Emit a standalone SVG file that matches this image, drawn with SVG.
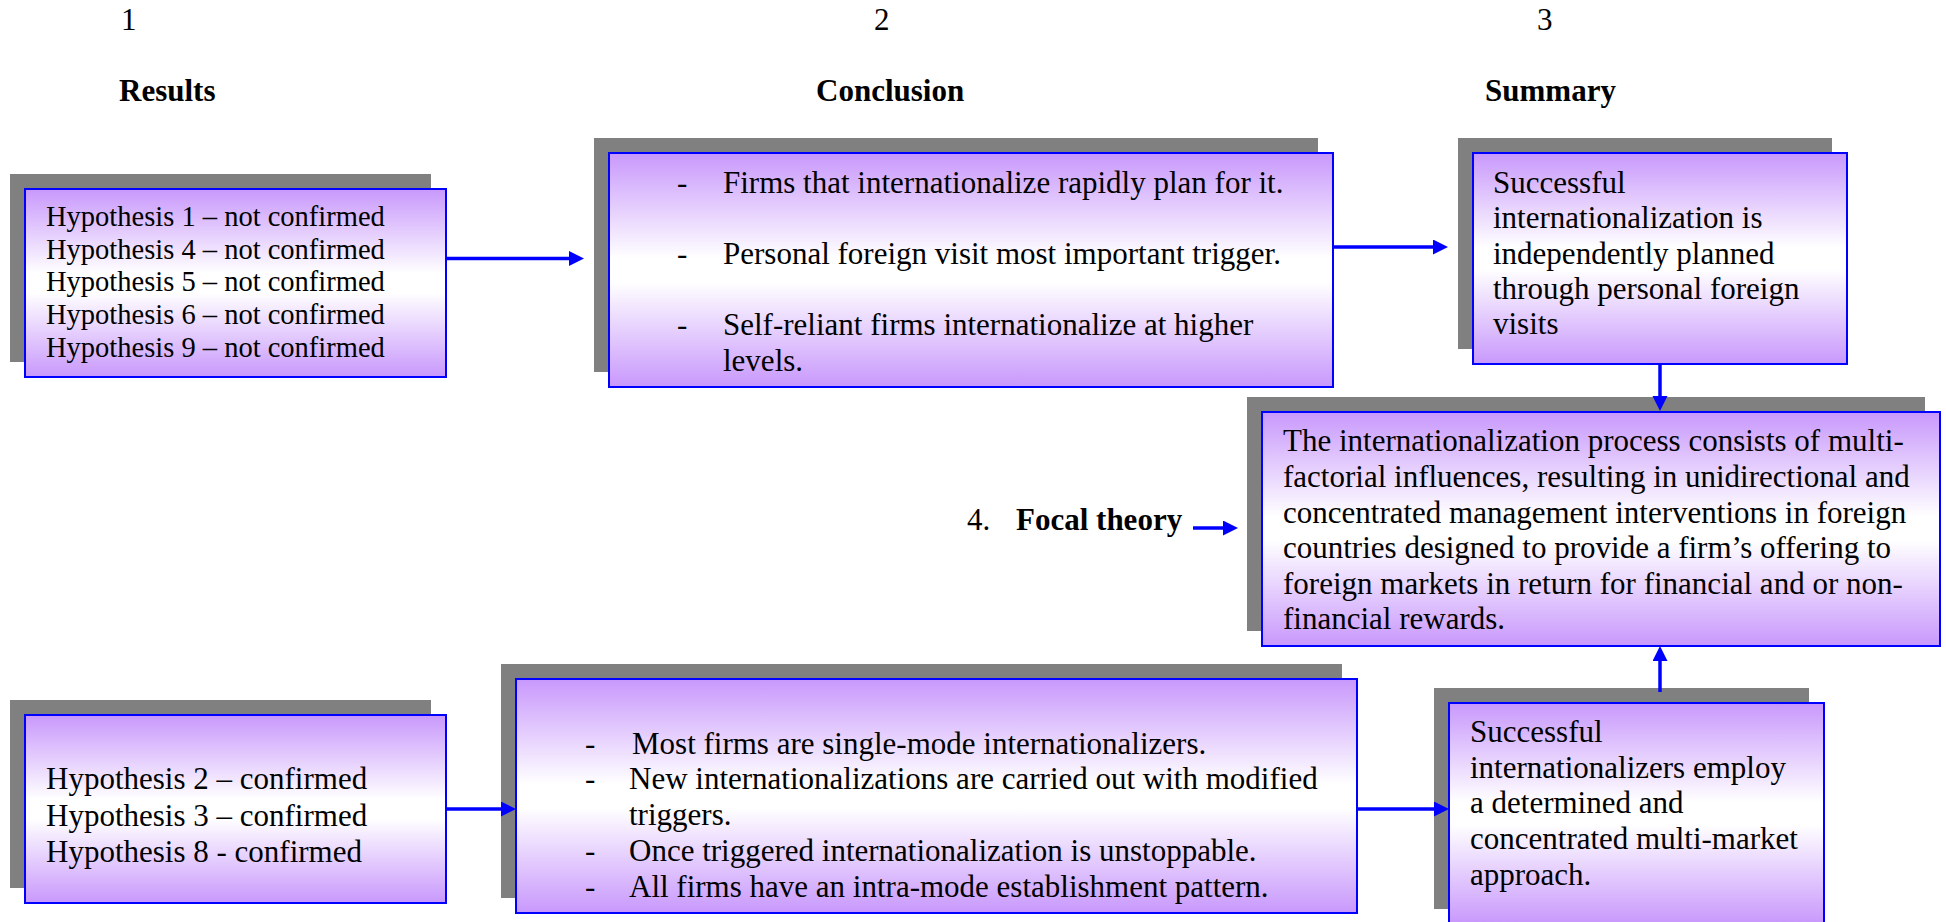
<svg xmlns="http://www.w3.org/2000/svg" width="1946" height="922" viewBox="0 0 1946 922">
  <defs>
    <linearGradient id="boxFill" x1="0" y1="0" x2="0" y2="1">
      <stop offset="0" stop-color="#C898FC"/>
      <stop offset="0.45" stop-color="#FFFFFF"/>
      <stop offset="0.55" stop-color="#FFFFFF"/>
      <stop offset="1" stop-color="#C898FC"/>
    </linearGradient>
    <marker id="arrowHead" markerUnits="userSpaceOnUse" markerWidth="16" markerHeight="16" refX="0" refY="7.5" orient="auto">
      <path d="M0,0 L15,7.5 L0,15 z" fill="#0000FF"/>
    </marker>
  </defs>
  <style>
    .shadow { fill: #808080; }
    .box { fill: url(#boxFill); stroke: #0000FF; stroke-width: 2; }
    text { font-family: "Liberation Serif", "Times New Roman", serif; fill: #000000; font-size: 31px; }
    .head { font-weight: bold; }
    .small { font-size: 28.5px; }
    .link { stroke: #0000FF; stroke-width: 3.5; fill: none; marker-end: url(#arrowHead); }
  </style>

  <rect width="1946" height="922" fill="#FFFFFF"/>

  <!-- column headings -->
  <g id="headings">
    <text x="121" y="30" font-size="30">1</text>
    <text x="874" y="30" font-size="30">2</text>
    <text x="1537" y="30" font-size="30">3</text>
    <text class="head" x="119" y="101">Results</text>
    <text class="head" x="816" y="101">Conclusion</text>
    <text class="head" x="1485" y="101">Summary</text>
  </g>

  <!-- results: rejected hypotheses -->
  <g id="results-rejected">
    <rect class="shadow" x="10" y="174" width="421" height="188"/>
    <rect class="box" x="25" y="189" width="421" height="188"/>
    <text class="small" x="46" y="226">Hypothesis 1 – not confirmed</text>
    <text class="small" x="46" y="258.7">Hypothesis 4 – not confirmed</text>
    <text class="small" x="46" y="291.4">Hypothesis 5 – not confirmed</text>
    <text class="small" x="46" y="324.1">Hypothesis 6 – not confirmed</text>
    <text class="small" x="46" y="356.8">Hypothesis 9 – not confirmed</text>
  </g>

  <!-- conclusion: upper -->
  <g id="conclusion-upper">
    <rect class="shadow" x="594" y="138" width="724" height="234"/>
    <rect class="box" x="609" y="153" width="724" height="234"/>
    <text x="677" y="193">-</text>
    <text x="723" y="193">Firms that internationalize rapidly plan for it.</text>
    <text x="677" y="264">-</text>
    <text x="723" y="264">Personal foreign visit most important trigger.</text>
    <text x="677" y="335">-</text>
    <text x="723" y="335">Self-reliant firms internationalize at higher</text>
    <text x="723" y="371">levels.</text>
  </g>

  <!-- summary: upper -->
  <g id="summary-upper">
    <rect class="shadow" x="1458" y="138" width="374" height="211"/>
    <rect class="box" x="1473" y="153" width="374" height="211"/>
    <text x="1493" y="193">Successful</text>
    <text x="1493" y="228">internationalization is</text>
    <text x="1493" y="263.5">independently planned</text>
    <text x="1493" y="299">through personal foreign</text>
    <text x="1493" y="334">visits</text>
  </g>

  <!-- focal theory -->
  <g id="focal-label">
    <text x="967" y="530">4.</text>
    <text class="head" x="1016" y="530">Focal theory</text>
  </g>
  <g id="focal-theory">
    <rect class="shadow" x="1247" y="397" width="678" height="234"/>
    <rect class="box" x="1262" y="412" width="678" height="234"/>
    <text x="1283" y="451">The internationalization process consists of multi-</text>
    <text x="1283" y="487">factorial influences, resulting in unidirectional and</text>
    <text x="1283" y="523">concentrated management interventions in foreign</text>
    <text x="1283" y="558">countries designed to provide a firm’s offering to</text>
    <text x="1283" y="593.5">foreign markets in return for financial and or non-</text>
    <text x="1283" y="629">financial rewards.</text>
  </g>

  <!-- results: confirmed hypotheses -->
  <g id="results-confirmed">
    <rect class="shadow" x="10" y="700" width="421" height="188"/>
    <rect class="box" x="25" y="715" width="421" height="188"/>
    <text x="46" y="789">Hypothesis 2 – confirmed</text>
    <text x="46" y="825.5">Hypothesis 3 – confirmed</text>
    <text x="46" y="862">Hypothesis 8 - confirmed</text>
  </g>

  <!-- conclusion: lower -->
  <g id="conclusion-lower">
    <rect class="shadow" x="501" y="664" width="841" height="234"/>
    <rect class="box" x="516" y="679" width="841" height="234"/>
    <text x="585" y="754">-</text>
    <text x="632" y="754">Most firms are single-mode internationalizers.</text>
    <text x="585" y="789">-</text>
    <text x="629" y="789">New internationalizations are carried out with modified</text>
    <text x="629" y="825">triggers.</text>
    <text x="585" y="861">-</text>
    <text x="629" y="861">Once triggered internationalization is unstoppable.</text>
    <text x="585" y="897">-</text>
    <text x="629" y="897">All firms have an intra-mode establishment pattern.</text>
  </g>

  <!-- summary: lower -->
  <g id="summary-lower">
    <rect class="shadow" x="1434" y="688" width="375" height="221"/>
    <rect class="box" x="1449" y="703" width="375" height="221"/>
    <text x="1470" y="742">Successful</text>
    <text x="1470" y="777.5">internationalizers employ</text>
    <text x="1470" y="813">a determined and</text>
    <text x="1470" y="849">concentrated multi-market</text>
    <text x="1470" y="885">approach.</text>
  </g>

  <!-- connectors, drawn above the boxes and their shadows -->
  <g id="connectors">
    <line class="link" x1="446" y1="258.5" x2="569" y2="258.5"/>
    <line class="link" x1="1333" y1="247" x2="1433" y2="247"/>
    <line class="link" x1="1660" y1="364" x2="1660" y2="396"/>
    <line class="link" x1="1193" y1="528" x2="1223" y2="528"/>
    <line class="link" x1="1660" y1="692" x2="1660" y2="661"/>
    <line class="link" x1="446" y1="809" x2="501" y2="809"/>
    <line class="link" x1="1357" y1="809" x2="1434" y2="809"/>
  </g>
</svg>
